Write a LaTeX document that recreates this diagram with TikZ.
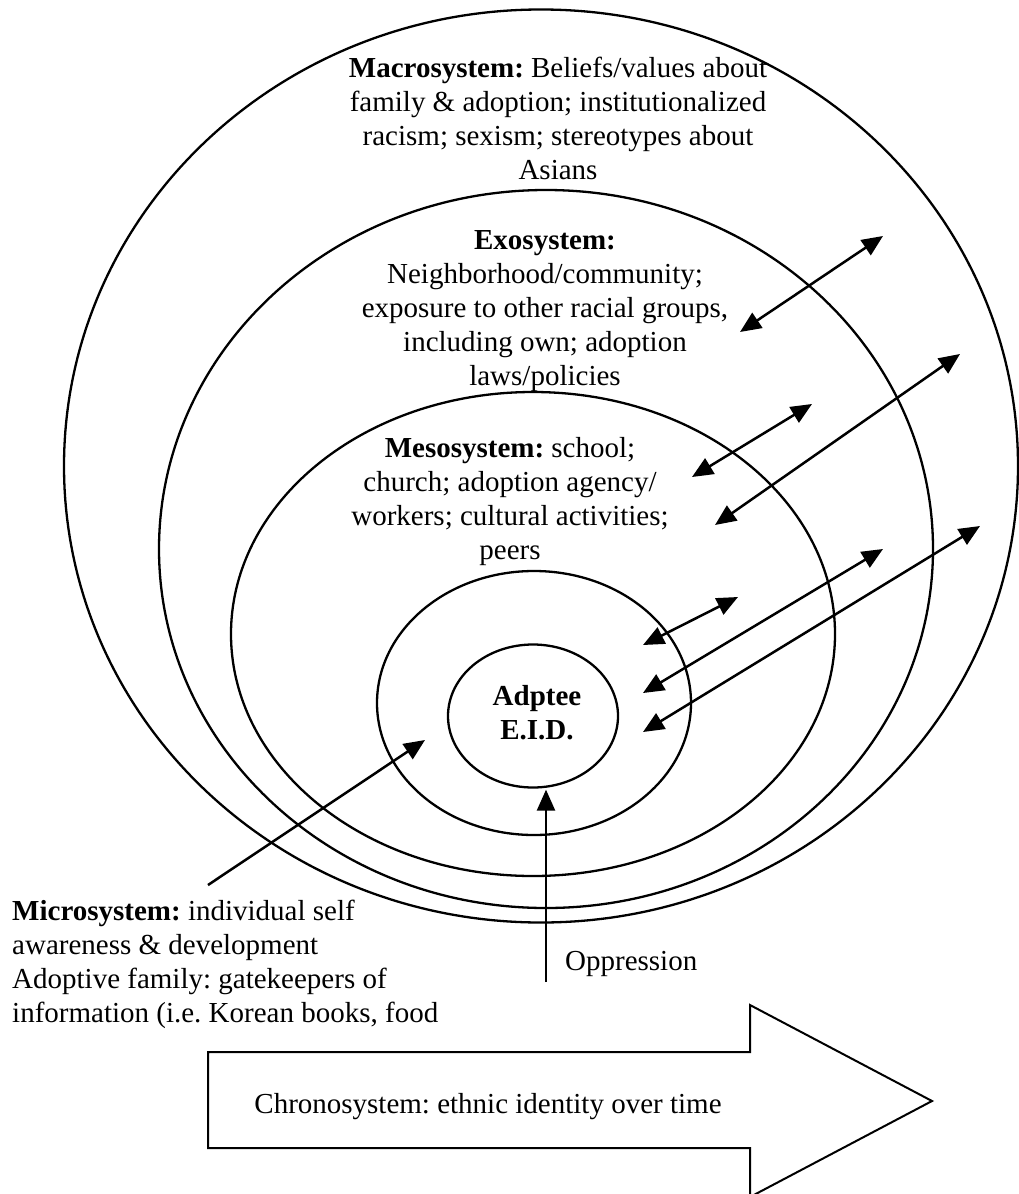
\documentclass[tikz,border=0pt]{standalone}
\usepackage{fontspec}
\setmainfont{Liberation Serif}
\usetikzlibrary{shapes.geometric,arrows.meta}

\tikzset{
  ring/.style={draw, ellipse, line width=2.3pt, inner sep=0pt},
  txt/.style={align=center, inner sep=0pt, font=\fontsize{29}{34}\selectfont},
  link/.style={line width=2.5pt, {Triangle[length=21pt,width=18pt]}-{Triangle[length=21pt,width=18pt]}},
  push/.style={line width=2.5pt, -{Triangle[length=21pt,width=18pt]}}
}

\begin{document}
\frenchspacing
\begin{tikzpicture}[x=1pt, y=-1pt]
  \useasboundingbox (0,0) rectangle (1019,1194);

  \node[ring, minimum width=954pt, minimum height=913pt] (macro) at (541,466) {};
  \node[ring, minimum width=774pt, minimum height=718pt] (exo) at (546,549) {};
  \node[ring, minimum width=604pt, minimum height=484pt] (meso) at (533,634) {};
  \node[ring, minimum width=314pt, minimum height=264pt] (micro) at (534,703) {};
  \node[ring, minimum width=170pt, minimum height=143pt] (eid) at (533,716) {};

  \node[txt, anchor=north] (macrotxt) at (558,57)
    {\textbf{Macrosystem:} Beliefs/values about\\family \& adoption; institutionalized\\racism; sexism; stereotypes about\\Asians};
  \node[txt, anchor=north] (exotxt) at (545,230)
    {\textbf{Exosystem:}\\Neighborhood/community;\\exposure to other racial groups,\\including own; adoption\\laws/policies};
  \node[txt, anchor=north] (mesotxt) at (510,437)
    {\textbf{Mesosystem:} school;\\church; adoption agency/\\workers; cultural activities;\\peers};
  \node[txt, anchor=north] (eidtxt) at (537,685)
    {\textbf{Adptee}\\\textbf{E.I.D.}};
  \node[txt, align=left, anchor=north west] (microtxt) at (12,900)
    {\textbf{Microsystem:} individual self\\awareness \& development\\Adoptive family: gatekeepers of\\information (i.e. Korean books, food};
  \node[txt, anchor=base west] (opptxt) at (565,970) {Oppression};

  \coordinate (x1) at (740,332);  \coordinate (y1) at (883,236);
  \coordinate (x2) at (692,477);  \coordinate (y2) at (812,404);
  \coordinate (x3) at (715,525);  \coordinate (y3) at (960,354);
  \coordinate (x4) at (643,645);  \coordinate (y4) at (738,597);
  \coordinate (x5) at (643,693);  \coordinate (y5) at (883,549);
  \coordinate (x6) at (643,732);  \coordinate (y6) at (980,526);
  \coordinate (mfoot) at (208,885); \coordinate (mhead) at (425,740);
  \coordinate (ofoot) at (546,982);

  \draw[link] (x1) -- (y1);
  \draw[link] (x2) -- (y2);
  \draw[link] (x3) -- (y3);
  \draw[link] (x4) -- (y4);
  \draw[link] (x5) -- (y5);
  \draw[link] (x6) -- (y6);
  \draw[push] (mfoot) -- (mhead);
  \draw[push] (ofoot) -- ([yshift=-1pt]ofoot |- eid.south);

  \draw[line width=2pt] (208,1052) -- (750,1052) -- (750,1005) -- (932,1101)
    -- (750,1197) -- (750,1148) -- (208,1148) -- cycle;
  \node[txt, anchor=base] (chrono) at (488,1113) {Chronosystem: ethnic identity over time};
\end{tikzpicture}
\end{document}
